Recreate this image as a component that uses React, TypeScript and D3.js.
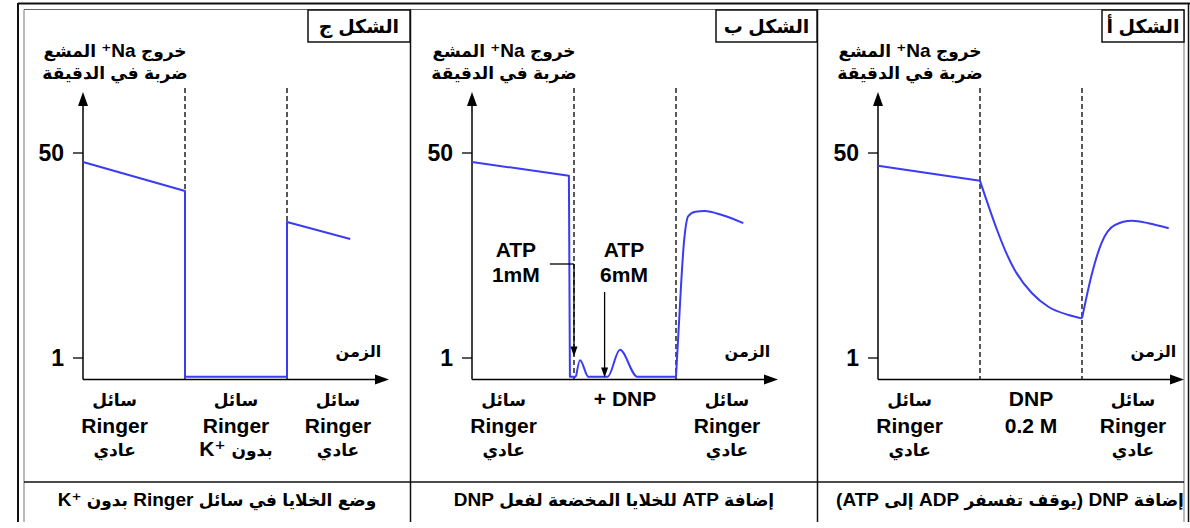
import React from 'react';
import * as d3 from 'd3';

const W = 1190;
const H = 528;

// ---------------- data ----------------
const figureTitles = ['الشكل ج', 'الشكل ب', 'الشكل أ'];
const figureCaptions = [
  'وضع الخلايا في سائل Ringer بدون K⁺\u200E',
  'إضافة ATP للخلايا المخضعة لفعل DNP',
  'إضافة DNP (يوقف تفسفر ADP إلى ATP)',
];
const yAxisTitle = ['خروج \u200E⁺Na المشع', 'ضربة في الدقيقة'];
const yTickValues = [1, 50];
const xAxisTitle = 'الزمن';
const timeDomain = [0, 30];
const valueDomain = [1, 50];
const baselineValue = 0.665;
const solutionChanges = [10, 20];
const zoneCentres = [3.1, 15, 25];

const zoneLabelsC = [
  ['سائل', 'Ringer', 'عادي'],
  ['سائل', 'Ringer', 'بدون K⁺\u200E'],
  ['سائل', 'Ringer', 'عادي'],
];
const zoneLabelsB = [['سائل', 'Ringer', 'عادي'], ['+ DNP'], ['سائل', 'Ringer', 'عادي']];
const zoneLabelsA = [['سائل', 'Ringer', 'عادي'], ['DNP', '0.2 M'], ['سائل', 'Ringer', 'عادي']];

// traces: [time, Na efflux]
const traceC = [[0, 42.1], [10, 24.2], [10, 0.7], [20, 0.7], [20, 13.4], [26.2, 9.7]];
const traceBDecline = [[0, 42.1], [9.5, 32.4], [9.6, 0.7], [10.2, 0.7]];
const traceBATP = [[10.2, 0.7], [10.6, 0.96], [11.4, 0.7], [13.3, 0.7], [14.5, 1.17], [16.2, 0.7], [20, 0.7]];
const traceBRecovery = [[20, 0.7], [20.2, 1.41], [20.8, 9.5], [21.2, 15.0], [21.9, 16.3], [22.8, 16.5], [24.5, 15.3], [26.6, 13.1]];
const traceADecline = [[0, 39.2], [10, 29.4]];
const traceADNP = [[10, 29.4], [13.4, 5.36], [15.1, 3.44], [16.7, 2.66], [18.7, 2.27], [20, 2.13]];
const traceARecovery = [[20, 2.13], [20.9, 4.72], [21.9, 8.92], [23.2, 12.6], [24.9, 13.7], [26.5, 13.1], [28.5, 11.9]];

const atpLabels = [['ATP', '1mM'], ['ATP', '6mM']];
const atpTimes = [10, 13];
const atpLabelTimes = [4.3, 14.9];
const atpTipValues = [1.03, 0.69];

// ---------------- layout / style ----------------
const FONT = "'Liberation Sans', Arial, 'DejaVu Sans', sans-serif";
const BLUE = '#3b3bf4';
const AR_RE = /([\u0600-\u06FF]+)/;
const isAr = (s: string) => /[\u0600-\u06FF]/.test(s);

const panelFrames = [
  { ax: 83, box: [308, 410], captionX: 217 },
  { ax: 472, box: [716, 817], captionX: 614 },
  { ax: 878, box: [1102, 1184], captionX: 1010 },
];

function MixedText({ x, y, text, latin, arabic }: any) {
  const parts = text.split(AR_RE).filter((p: string) => p.length > 0);
  const rtl = parts.some(isAr);
  return (
    <text
      x={x}
      y={y}
      textAnchor="middle"
      direction={rtl ? 'rtl' : 'ltr'}
      fontFamily={FONT}
      fontWeight={700}
      fill="#000"
    >
      {parts.map((p: string, i: number) => (
        <tspan key={i} fontSize={isAr(p) ? arabic : latin}>
          {p}
        </tspan>
      ))}
    </text>
  );
}

type Seg = { pts: number[][]; smooth: boolean };

function Panel({ idx, zones, segs, withAtp }: { idx: number; zones: string[][]; segs: Seg[]; withAtp?: boolean }) {
  const f = panelFrames[idx];
  const ax = f.ax;
  const x = d3.scaleLinear().domain(timeDomain).range([ax, ax + 306]);
  const y = d3.scaleLog().domain(valueDomain).range([358, 153]);
  const y0 = y(baselineValue);
  const yArrowTip = 92;
  const dashTop = 88;
  const xEnd = x(timeDomain[1]);

  const lineLinear = d3
    .line<number[]>()
    .x((d) => x(d[0]))
    .y((d) => y(d[1]))
    .curve(d3.curveLinear);
  const lineSmooth = d3
    .line<number[]>()
    .x((d) => x(d[0]))
    .y((d) => y(d[1]))
    .curve(d3.curveMonotoneX);

  const lineBaselines = [406, 433, 456];
  const titleX = ax + 32;

  return (
    <g>
      {/* figure title box */}
      <rect x={f.box[0]} y={10} width={f.box[1] - f.box[0]} height={32} fill="#fff" stroke="#111" strokeWidth={1.5} />
      <MixedText x={(f.box[0] + f.box[1]) / 2} y={33} text={figureTitles[idx]} latin={20} arabic={19} />

      {/* y axis title */}
      <MixedText x={titleX} y={57} text={yAxisTitle[0]} latin={19} arabic={17} />
      <MixedText x={titleX} y={79} text={yAxisTitle[1]} latin={19} arabic={17} />

      {/* dashed solution-change lines */}
      {solutionChanges.map((t, i) => (
        <line key={i} x1={x(t)} x2={x(t)} y1={dashTop} y2={y0} stroke="#222" strokeWidth={1.5} strokeDasharray="5,3" />
      ))}

      {/* axes */}
      <line x1={ax} x2={ax} y1={yArrowTip + 12} y2={y0} stroke="#000" strokeWidth={1.5} />
      <path d={`M${ax},${yArrowTip} L${ax - 5},${yArrowTip + 14} L${ax + 5},${yArrowTip + 14} Z`} fill="#000" />
      <line x1={ax} x2={xEnd - 12} y1={y0} y2={y0} stroke="#000" strokeWidth={1.5} />
      <path d={`M${xEnd},${y0} L${xEnd - 14},${y0 - 5} L${xEnd - 14},${y0 + 5} Z`} fill="#000" />

      {yTickValues.map((v) => (
        <g key={v}>
          <line x1={ax - 10} x2={ax} y1={y(v)} y2={y(v)} stroke="#000" strokeWidth={1.3} />
          <text
            x={ax - 19}
            y={y(v) + 8}
            textAnchor="end"
            fontFamily={FONT}
            fontWeight={700}
            fontSize={23}
            fill="#000"
          >
            {v}
          </text>
        </g>
      ))}

      {/* time label */}
      <MixedText x={x(27)} y={357} text={xAxisTitle} latin={18} arabic={16} />

      {/* traces */}
      {segs.map((s, i) => (
        <path
          key={i}
          d={(s.smooth ? lineSmooth : lineLinear)(s.pts) || ''}
          fill="none"
          stroke={BLUE}
          strokeWidth={2}
          strokeLinejoin="round"
        />
      ))}

      {/* ATP additions */}
      {withAtp &&
        atpLabels.map((lab, i) => {
          const tx = x(atpLabelTimes[i]);
          const axX = x(atpTimes[i]);
          const tip = y(atpTipValues[i]);
          const startY = i === 0 ? 264 : 292;
          return (
            <g key={i}>
              <text x={tx} y={257} textAnchor="middle" fontFamily={FONT} fontWeight={700} fontSize={21} fill="#000">
                {lab[0]}
              </text>
              <text x={tx} y={282} textAnchor="middle" fontFamily={FONT} fontWeight={700} fontSize={21} fill="#000">
                {lab[1]}
              </text>
              {i === 0 && <line x1={tx + 34} x2={axX} y1={startY} y2={startY} stroke="#000" strokeWidth={1.3} />}
              <line x1={axX} x2={axX} y1={startY} y2={tip - 8} stroke="#000" strokeWidth={1.3} />
              <path d={`M${axX},${tip} L${axX - 3.5},${tip - 10} L${axX + 3.5},${tip - 10} Z`} fill="#000" />
            </g>
          );
        })}

      {/* zone labels under the time axis */}
      {zones.map((lines, zi) =>
        lines.map((ln, li) => (
          <MixedText key={`${zi}-${li}`} x={x(zoneCentres[zi])} y={lineBaselines[li]} text={ln} latin={21} arabic={17} />
        ))
      )}

      {/* caption */}
      <MixedText x={f.captionX} y={506} text={figureCaptions[idx]} latin={19} arabic={17} />
    </g>
  );
}

export default function App() {
  return (
    <div style={{ width: W, height: H }}>
      <style>{'body{margin:0;}'}</style>
      <svg width={W} height={H} viewBox={`0 0 ${W} ${H}`} style={{ display: 'block', background: '#fff' }}>
        <rect x={0} y={0} width={W} height={H} fill="#fff" />
        {/* frame */}
        <line x1={18} x2={18} y1={3} y2={522} stroke="#111" strokeWidth={2} />
        <line x1={18} x2={1190} y1={3.5} y2={3.5} stroke="#111" strokeWidth={2} />
        <line x1={1188.5} x2={1188.5} y1={3} y2={522} stroke="#111" strokeWidth={1.5} />
        <line x1={24} x2={24} y1={9.5} y2={522} stroke="#777" strokeWidth={1} />
        <line x1={24} x2={1184} y1={9.5} y2={9.5} stroke="#666" strokeWidth={1.2} />
        <line x1={1184} x2={1184} y1={9.5} y2={522} stroke="#777" strokeWidth={1} />
        <line x1={410.5} x2={410.5} y1={9.5} y2={522} stroke="#111" strokeWidth={1.5} />
        <line x1={817.5} x2={817.5} y1={9.5} y2={522} stroke="#111" strokeWidth={1.5} />
        <line x1={24} x2={1184} y1={482} y2={482} stroke="#111" strokeWidth={1.5} />

        <Panel idx={0} zones={zoneLabelsC} segs={[{ pts: traceC, smooth: false }]} />
        <Panel
          idx={1}
          zones={zoneLabelsB}
          withAtp
          segs={[
            { pts: traceBDecline, smooth: false },
            { pts: traceBATP, smooth: true },
            { pts: traceBRecovery, smooth: true },
          ]}
        />
        <Panel
          idx={2}
          zones={zoneLabelsA}
          segs={[
            { pts: traceADecline, smooth: false },
            { pts: traceADNP, smooth: true },
            { pts: traceARecovery, smooth: true },
          ]}
        />
      </svg>
    </div>
  );
}
